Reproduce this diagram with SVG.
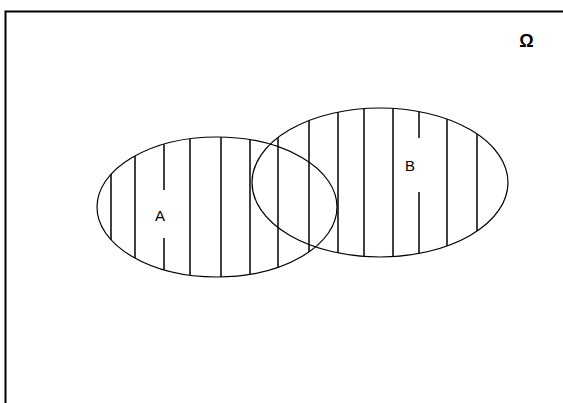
<svg xmlns="http://www.w3.org/2000/svg" width="563" height="403" viewBox="0 0 563 403">
<style>
.ell{fill:none;stroke:#000;stroke-width:1.2}
.hatch line{stroke:#000;stroke-width:1.5}
.lbl{font-family:"Liberation Sans",Arial,sans-serif;font-size:15px;fill:#000;text-anchor:middle}
</style>
<defs>
<clipPath id="u">
<ellipse cx="217" cy="207" rx="120" ry="70"/>
<ellipse cx="380" cy="182.5" rx="128" ry="74.5"/>
</clipPath>
</defs>
<rect width="563" height="403" fill="#fff"/>
<rect id="universe" x="5.5" y="11.5" width="600" height="420" fill="none" stroke="#000" stroke-width="2"/>
<text class="lbl" x="526.5" y="47" style="font-weight:bold;font-size:18px">Ω</text>
<g class="hatch" clip-path="url(#u)">
<line x1="111" y1="100" x2="111" y2="300"/>
<line x1="135" y1="100" x2="135" y2="300"/>
<line x1="164" y1="100" x2="164" y2="190"/>
<line x1="164" y1="238" x2="164" y2="300"/>
<line x1="190" y1="100" x2="190" y2="300"/>
<line x1="221" y1="100" x2="221" y2="300"/>
<line x1="250" y1="100" x2="250" y2="300"/>
<line x1="278" y1="100" x2="278" y2="300"/>
<line x1="309" y1="100" x2="309" y2="300"/>
<line x1="338" y1="100" x2="338" y2="300"/>
<line x1="364" y1="100" x2="364" y2="300"/>
<line x1="393" y1="100" x2="393" y2="300"/>
<line x1="419" y1="100" x2="419" y2="138"/>
<line x1="419" y1="192" x2="419" y2="300"/>
<line x1="447" y1="100" x2="447" y2="300"/>
<line x1="477" y1="100" x2="477" y2="300"/>
</g>
<g id="A">
<ellipse class="ell" cx="217" cy="207" rx="120" ry="70"/>
<text class="lbl" x="160" y="221">A</text>
</g>
<g id="B">
<ellipse class="ell" cx="380" cy="182.5" rx="128" ry="74.5"/>
<text class="lbl" x="410" y="171">B</text>
</g>
</svg>
